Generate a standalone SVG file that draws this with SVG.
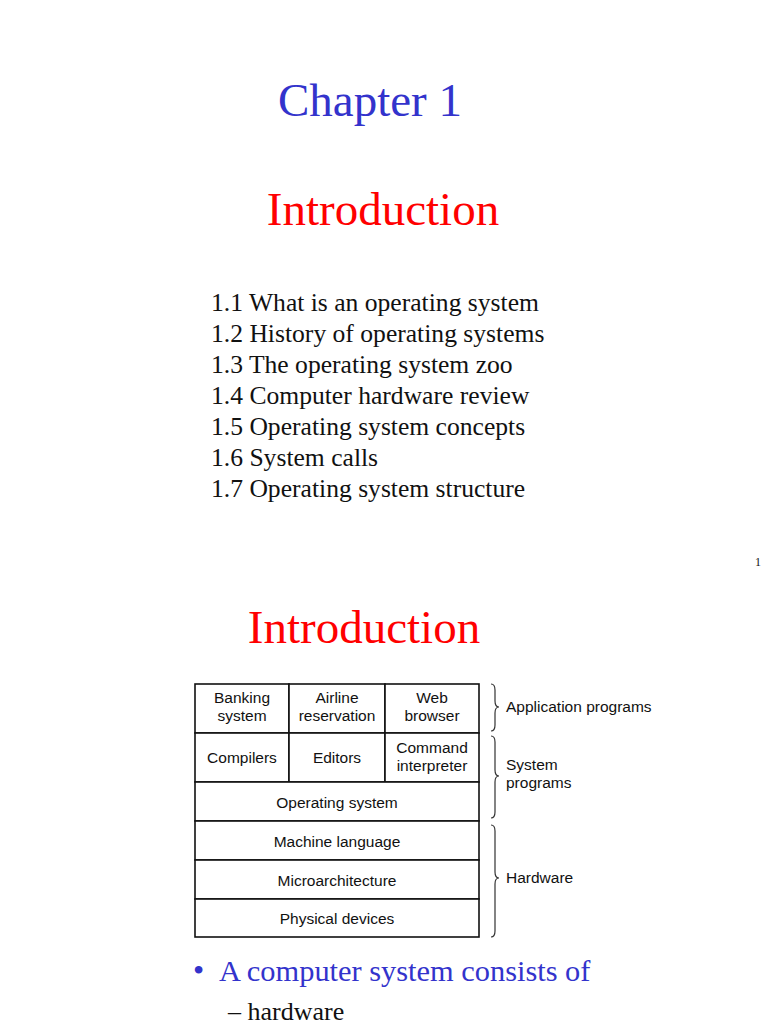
<svg xmlns="http://www.w3.org/2000/svg" width="768" height="1024" viewBox="0 0 768 1024">
<style>
.serif{font-family:"Liberation Serif","DejaVu Serif",serif}
.sans{font-family:"Liberation Sans",Arial,sans-serif;font-size:15.5px;fill:#111}
.blue{fill:#3333cc}
.red{fill:#ff0000}
.item{font-size:25.6px;fill:#111}
.cell{fill:#fff;stroke:#111;stroke-width:1.6}
.brace{fill:none;stroke:#333;stroke-width:1.2}
</style>
<rect width="768" height="1024" fill="#fff"/>
<text class="serif blue" x="370" y="116" font-size="47" text-anchor="middle">Chapter 1</text>
<text class="serif red" x="383" y="225" font-size="47" text-anchor="middle">Introduction</text>
<g class="serif item">
<text x="211" y="311">1.1 What is an operating system</text>
<text x="211" y="342">1.2 History of operating systems</text>
<text x="211" y="373">1.3 The operating system zoo</text>
<text x="211" y="404">1.4 Computer hardware review</text>
<text x="211" y="435">1.5 Operating system concepts</text>
<text x="211" y="466">1.6 System calls</text>
<text x="211" y="497">1.7 Operating system structure</text>
</g>
<text class="serif" x="761" y="566" font-size="12" text-anchor="end" fill="#111">1</text>
<text class="serif red" x="364" y="643" font-size="47" text-anchor="middle">Introduction</text>

<g id="banking"><rect class="cell" x="195" y="684" width="94" height="49"/><text class="sans" x="242" y="703" text-anchor="middle">Banking</text><text class="sans" x="242" y="721" text-anchor="middle">system</text></g>
<g id="airline"><rect class="cell" x="289" y="684" width="96" height="49"/><text class="sans" x="337" y="703" text-anchor="middle">Airline</text><text class="sans" x="337" y="721" text-anchor="middle">reservation</text></g>
<g id="web"><rect class="cell" x="385" y="684" width="94" height="49"/><text class="sans" x="432" y="703" text-anchor="middle">Web</text><text class="sans" x="432" y="721" text-anchor="middle">browser</text></g>
<g id="compilers"><rect class="cell" x="195" y="733" width="94" height="49"/><text class="sans" x="242" y="763" text-anchor="middle">Compilers</text></g>
<g id="editors"><rect class="cell" x="289" y="733" width="96" height="49"/><text class="sans" x="337" y="763" text-anchor="middle">Editors</text></g>
<g id="command"><rect class="cell" x="385" y="733" width="94" height="49"/><text class="sans" x="432" y="753" text-anchor="middle">Command</text><text class="sans" x="432" y="771" text-anchor="middle">interpreter</text></g>
<g id="os"><rect class="cell" x="195" y="782" width="284" height="39"/><text class="sans" x="337" y="808" text-anchor="middle">Operating system</text></g>
<g id="ml"><rect class="cell" x="195" y="821" width="284" height="39"/><text class="sans" x="337" y="847" text-anchor="middle">Machine language</text></g>
<g id="micro"><rect class="cell" x="195" y="860" width="284" height="39"/><text class="sans" x="337" y="886" text-anchor="middle">Microarchitecture</text></g>
<g id="phys"><rect class="cell" x="195" y="899" width="284" height="38"/><text class="sans" x="337" y="924" text-anchor="middle">Physical devices</text></g>

<g id="connectors">
<path class="brace" d="M491,684 Q495,684 495,690 L495,701 Q495,707 499,707 Q495,707 495,713 L495,725 Q495,731 491,731"/>
<path class="brace" d="M491,736 Q495,736 495,742 L495,770 Q495,776 499,776 Q495,776 495,782 L495,812 Q495,818 491,818"/>
<path class="brace" d="M491,825 Q495,825 495,831 L495,872 Q495,878 499,878 Q495,878 495,884 L495,931 Q495,937 491,937"/>
</g>
<g id="labels">
<text class="sans" x="506" y="712">Application programs</text>
<text class="sans" x="506" y="770">System</text>
<text class="sans" x="506" y="788">programs</text>
<text class="sans" x="506" y="883">Hardware</text>
</g>

<text class="serif blue" x="193" y="981" font-size="32">•</text>
<text class="serif blue" x="219" y="981" font-size="30.4">A computer system consists of</text>
<text class="serif" x="228" y="1020" font-size="26" fill="#111">– hardware</text>
</svg>
